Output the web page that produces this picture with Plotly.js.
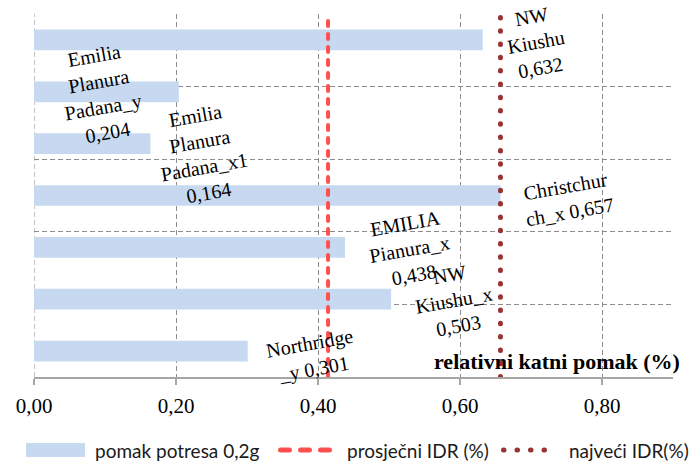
<!DOCTYPE html>
<html>
<head>
<meta charset="utf-8">
<script src="https://cdn.plot.ly/plotly-3.0.1.min.js"></script>
<style>html,body{margin:0;padding:0;background:#fff;}#chart{width:692px;height:466px;}</style>
</head>
<body>
<div id="chart"></div>
<script>
// Data (bottom to top)
const categories = ["Northridge_y", "NW Kiushu_x", "EMILIA Pianura_x", "Christchurch_x", "Emilia Planura Padana_x1", "Emilia Planura Padana_y", "NW Kiushu"];
const values = [0.301, 0.503, 0.438, 0.657, 0.164, 0.204, 0.632];
const labelNames = ["Northridge<br>_y ", "NW<br>Kiushu_x<br>", "EMILIA<br>Pianura_x<br>", "Christchur<br>ch_x ", "Emilia<br>Planura<br>Padana_x1<br>", "Emilia<br>Planura<br>Padana_y<br>", "NW<br>Kiushu<br>"];
const tickVals = [0, 0.2, 0.4, 0.6, 0.8];
const tickText = ["0,00", "0,20", "0,40", "0,60", "0,80"];
const seriesNames = ["pomak potresa 0,2g", "prosječni IDR (%)", "najveći IDR(%)"];
const axisTitle = "relativni katni pomak (%)";

// label placement tweaks (pixels)
const labelDx = [64, 63, 65, 67, 52, -78, 53];
const labelDy = [-5, -1, -2, -3, -10, -2, -2];

const meanIDR = values.reduce((a, b) => a + b, 0) / values.length;
const maxIDR = Math.max(...values);
const fmt = v => v.toFixed(3).replace('.', ',');

const serif = "'Liberation Serif', 'Times New Roman', serif";
const sans = "Lato, 'Liberation Sans', sans-serif";
const colBar = '#c6d9f0', colMean = '#ff5050', colMax = '#993333', colGrid = '#8c8c8c';

const traces = [
  {type: 'bar', orientation: 'h', x: values, y: categories, name: seriesNames[0],
   marker: {color: colBar}, width: 0.4},
  {type: 'scatter', mode: 'lines', x: [meanIDR, meanIDR], y: [0, 1], yaxis: 'y2', name: seriesNames[1],
   line: {color: colMean, width: 4, dash: '5px,8px'}},
  {type: 'scatter', mode: 'lines', x: [maxIDR, maxIDR], y: [0, 1], yaxis: 'y2', name: seriesNames[2],
   line: {color: colMax, width: 5, dash: '0.5px,12.8px'}}
];

const annotations = values.map((v, i) => ({
  x: v, y: categories[i], xref: 'x', yref: 'y',
  text: labelNames[i] + fmt(v), showarrow: false,
  textangle: -10, align: 'center', xanchor: 'center', yanchor: 'middle',
  xshift: labelDx[i], yshift: labelDy[i],
  font: {family: serif, size: 20, color: '#000'}
}));
annotations.push({
  x: 1, y: 0, xref: 'paper', yref: 'paper', xanchor: 'right', yanchor: 'middle',
  xshift: 9, yshift: 16, showarrow: false, text: '<b>' + axisTitle + '</b>',
  font: {family: serif, size: 22, color: '#000'}
});

// custom legend (paper coords; plot area 639 x 363 px starting at 34,14)
const px = p => (p - 34) / 639;
const py = p => (377 - p) / 363;
const legY = py(450);
const legendText = [93, 345, 567];
legendText.forEach((xp, i) => annotations.push({
  x: px(xp), y: legY, xref: 'paper', yref: 'paper', xanchor: 'left', yanchor: 'middle',
  showarrow: false, text: seriesNames[i], font: {family: sans, size: 19, color: '#1a1a1a'}
}));

const shapes = [
  {type: 'line', xref: 'x', yref: 'paper', x0: 0, x1: 0, y0: 0, y1: 1, layer: 'below',
   line: {color: colGrid, width: 1, dash: '5px,3px'}},
  {type: 'rect', xref: 'paper', yref: 'paper', x0: px(26), x1: px(85), y0: py(457), y1: py(443),
   fillcolor: colBar, line: {width: 0}},
  {type: 'line', xref: 'paper', yref: 'paper', x0: px(280.5), x1: px(329.5), y0: legY, y1: legY,
   line: {color: colMean, width: 5, dash: '9px,11px'}},
  {type: 'line', xref: 'paper', yref: 'paper', x0: px(503.5), x1: px(557.5), y0: legY, y1: legY,
   line: {color: colMax, width: 5, dash: '0.5px,13px'}}
];

const layout = {
  width: 692, height: 466,
  margin: {l: 34, r: 19, t: 14, b: 89},
  paper_bgcolor: '#fff', plot_bgcolor: '#fff',
  font: {family: serif},
  showlegend: false,
  xaxis: {range: [0, 0.9], tickvals: tickVals, ticktext: tickText, ticks: 'outside', ticklen: 6,
          tickcolor: '#a6a6a6', tickwidth: 1.5, showline: true, linecolor: '#a6a6a6', linewidth: 2,
          showgrid: true, gridcolor: colGrid, griddash: '5px,3px', gridwidth: 1, zeroline: false,
          ticklabelstandoff: 3,
          tickfont: {family: serif, size: 21, color: '#000'}, fixedrange: true},
  yaxis: {type: 'category', showticklabels: false, showgrid: false, zeroline: false, showline: false,
          ticks: '', range: [-0.5, 6.5], fixedrange: true},
  yaxis2: {overlaying: 'y', range: [0, 1], dtick: 0.2, showticklabels: false, showgrid: true,
           gridcolor: colGrid, griddash: '5px,3px', gridwidth: 1, zeroline: false, showline: false, ticks: '', fixedrange: true},
  annotations: annotations,
  shapes: shapes
};

Plotly.newPlot('chart', traces, layout, {displayModeBar: false, staticPlot: true}).then(gd => {
  gd.querySelectorAll('.scatterlayer path.js-line').forEach(p => p.style.strokeLinecap = 'round');
  gd.querySelectorAll('.shapelayer path').forEach(p => {
    if (p.style.strokeDasharray && p.style.strokeDasharray !== 'none' && p.style.strokeDasharray.indexOf('5px') !== 0) {
      p.style.strokeLinecap = 'round';
    }
  });
});
</script>
</body>
</html>
